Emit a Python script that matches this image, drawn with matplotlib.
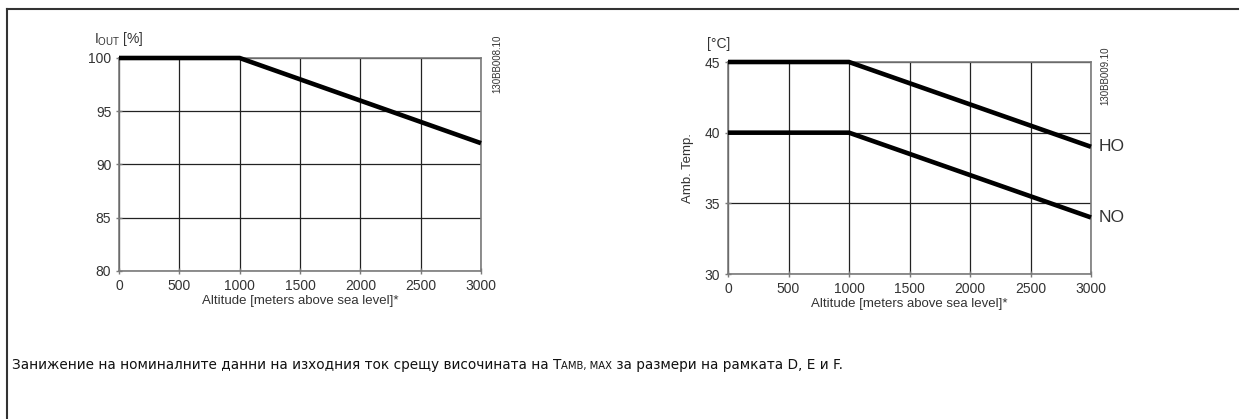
import matplotlib
matplotlib.use("Agg")
import matplotlib.pyplot as plt
from matplotlib.lines import Line2D

plt.rcParams["font.family"] = ["Liberation Sans", "DejaVu Sans"]

# Altitude breakpoints [m above sea level]
altitude = [0, 1000, 1500, 2000, 2500, 3000]
# Output current derating [%]
i_out = [100, 100, 98, 96, 94, 92]
# Max ambient temperature [°C] for high / normal overload
temp_ho = [45, 45, 43.5, 42, 40.5, 39]
temp_no = [40, 40, 38.5, 37, 35.5, 34]

x_ticks = [0, 500, 1000, 1500, 2000, 2500, 3000]
i_ticks = [80, 85, 90, 95, 100]
t_ticks = [30, 35, 40, 45]

W, H = 1243, 419
fig = plt.figure(figsize=(W / 100, H / 100), dpi=100)
fig.patch.set_facecolor("white")

TXT = "#333333"
GRID = "#222222"
SPINE = "#7a7a7a"


def px(x0, y0, x1, y1):
    return [x0 / W, 1 - y1 / H, (x1 - x0) / W, (y1 - y0) / H]


def style(ax, yticks):
    ax.set_xlim(0, 3000)
    ax.set_ylim(yticks[0], yticks[-1])
    ax.set_xticks(x_ticks)
    ax.set_yticks(yticks)
    ax.grid(True, color=GRID, linewidth=0.9)
    ax.set_axisbelow(True)
    for s in ax.spines.values():
        s.set_color(SPINE)
        s.set_linewidth(1.2)
    ax.tick_params(direction="inout", length=5, width=1, color=SPINE,
                   labelsize=10, labelcolor=TXT, pad=3)
    ax.set_xlabel("Altitude [meters above sea level]*", fontsize=9.5,
                  color=TXT, labelpad=2)


# Left: output current vs altitude
ax1 = fig.add_axes(px(119, 58, 481, 271))
style(ax1, i_ticks)
ax1.plot(altitude, i_out, color="black", linewidth=3.3,
         solid_capstyle="butt", clip_on=False, zorder=5)
ax1.text(-0.068, 1.09, r"I$_{\mathregular{OUT}}$ [%]", transform=ax1.transAxes,
         fontsize=10, color=TXT, ha="left", va="center")
ax1.text(1.045, 1.108, "130BB008.10", transform=ax1.transAxes, rotation=90,
         fontsize=7, color=TXT, ha="center", va="top")

# Right: ambient temperature vs altitude
ax2 = fig.add_axes(px(728, 62, 1091, 274))
style(ax2, t_ticks)
ax2.plot(altitude, temp_ho, color="black", linewidth=3.3,
         solid_capstyle="butt", clip_on=False, zorder=5)
ax2.plot(altitude, temp_no, color="black", linewidth=3.3,
         solid_capstyle="butt", clip_on=False, zorder=5)
ax2.text(3060, temp_ho[-1], "HO", fontsize=12.5, color=TXT,
         ha="left", va="center")
ax2.text(3060, temp_no[-1], "NO", fontsize=12.5, color=TXT,
         ha="left", va="center")
ax2.set_ylabel("Amb. Temp.", fontsize=9.5, color=TXT, labelpad=8)
ax2.text(-0.058, 1.085, "[°C]", transform=ax2.transAxes,
         fontsize=10, color=TXT, ha="left", va="center")
ax2.text(1.04, 1.075, "130BB009.10", transform=ax2.transAxes, rotation=90,
         fontsize=7, color=TXT, ha="center", va="top")

# Page frame (top and left rules)
fig.add_artist(Line2D([7 / W, 1238 / W], [1 - 9 / H, 1 - 9 / H],
                      transform=fig.transFigure, color="#333333", linewidth=1.5))
fig.add_artist(Line2D([7 / W, 7 / W], [1 - 9 / H, 0],
                      transform=fig.transFigure, color="#333333", linewidth=1.5))

# Caption with small-caps subscript
cap_parts = [
    ("Занижение на номиналните данни на изходния ток срещу височината на T", 9.8),
    ("AMB, MAX", 7.2),
    (" за размери на рамката D, E и F.", 9.8),
]
fig.canvas.draw()
renderer = fig.canvas.get_renderer()
x = 12 / W
y = 1 - 369 / H
for s, fs in cap_parts:
    t = fig.text(x, y, s, fontsize=fs, color="#111111", ha="left",
                 va="baseline", family=["DejaVu Sans"])
    bb = t.get_window_extent(renderer=renderer)
    x += bb.width / W

fig.savefig("out.png", dpi=100, facecolor="white")
